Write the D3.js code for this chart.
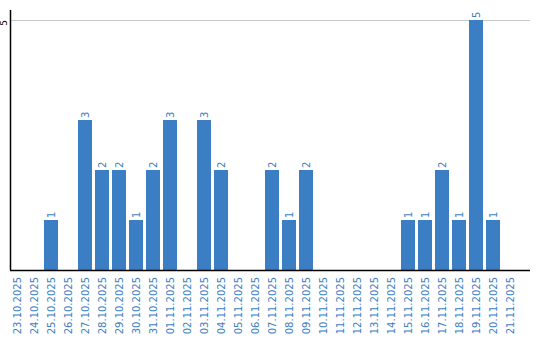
<!DOCTYPE html>
<html>
<head>
<meta charset="utf-8">
<script src="https://cdn.jsdelivr.net/npm/d3@7"></script>
<style>
  body { margin: 0; background: #fff; }
  svg { display: block; }
</style>
</head>
<body>
<svg id="chart" width="540" height="340"></svg>
<script>
const dates = ["23.10.2025","24.10.2025","25.10.2025","26.10.2025","27.10.2025","28.10.2025",
  "29.10.2025","30.10.2025","31.10.2025","01.11.2025","02.11.2025","03.11.2025","04.11.2025",
  "05.11.2025","06.11.2025","07.11.2025","08.11.2025","09.11.2025","10.11.2025","11.11.2025",
  "12.11.2025","13.11.2025","14.11.2025","15.11.2025","16.11.2025","17.11.2025","18.11.2025",
  "19.11.2025","20.11.2025","21.11.2025"];
const counts = [0,0,1,0,3,2,2,1,2,3,0,3,2,0,0,2,1,2,0,0,0,0,0,1,1,2,1,5,1,0];
const yTicks = [5];

const barColor = "#3b7ec3";
const textColor = "#3b7ec3";

const svg = d3.select("#chart");
const plot = {left: 10, right: 530, top: 10, bottom: 270};

const x = d3.scaleBand()
    .domain(dates)
    .range([plot.left, plot.left + 17 * dates.length - 3])
    .paddingInner(3 / 17)
    .paddingOuter(0);

const y = d3.scaleLinear().domain([0, 5]).range([plot.bottom, 20]);

// grid
svg.append("g").selectAll("line")
    .data(yTicks)
    .enter().append("line")
    .attr("x1", plot.left).attr("x2", plot.right)
    .attr("y1", d => y(d) + 0.5).attr("y2", d => y(d) + 0.5)
    .attr("stroke", "#c8c8c8").attr("stroke-width", 1);

const barData = counts.map((v, i) => ({date: dates[i], v: v})).filter(d => d.v > 0);

// bars
svg.append("g").selectAll("rect")
    .data(barData)
    .enter().append("rect")
    .attr("x", d => x(d.date))
    .attr("y", d => y(d.v))
    .attr("width", x.bandwidth())
    .attr("height", d => plot.bottom - y(d.v))
    .attr("fill", barColor);

// value labels
svg.append("g").selectAll("text")
    .data(barData)
    .enter().append("text")
    .attr("transform", d => `translate(${x(d.date) + x.bandwidth() / 2 + 4},${y(d.v) - 2}) rotate(-90)`)
    .attr("font-family", "DejaVu Sans, sans-serif")
    .attr("font-size", 10)
    .attr("fill", textColor)
    .text(d => d.v);

// axes lines
svg.append("line")
    .attr("x1", plot.left + 0.5).attr("x2", plot.left + 0.5)
    .attr("y1", plot.top).attr("y2", plot.bottom)
    .attr("stroke", "#000").attr("stroke-width", 1.5);
svg.append("line")
    .attr("x1", plot.left).attr("x2", plot.right)
    .attr("y1", plot.bottom + 0.5).attr("y2", plot.bottom + 0.5)
    .attr("stroke", "#000").attr("stroke-width", 1.5);

// y tick labels
svg.append("g").selectAll("text")
    .data(yTicks)
    .enter().append("text")
    .attr("transform", d => `translate(7,${y(d) + 3}) rotate(-90)`)
    .attr("text-anchor", "middle")
    .attr("font-family", "DejaVu Sans, sans-serif")
    .attr("font-size", 9)
    .attr("fill", "#000")
    .text(d => d);

// x tick labels
svg.append("g").selectAll("text")
    .data(dates)
    .enter().append("text")
    .attr("transform", d => `translate(${x(d) + x.bandwidth() / 2 + 4},${plot.bottom + 7}) rotate(-90)`)
    .attr("text-anchor", "end")
    .attr("font-family", "DejaVu Sans, sans-serif")
    .attr("font-size", 10)
    .attr("fill", textColor)
    .text(d => d);
</script>
</body>
</html>
